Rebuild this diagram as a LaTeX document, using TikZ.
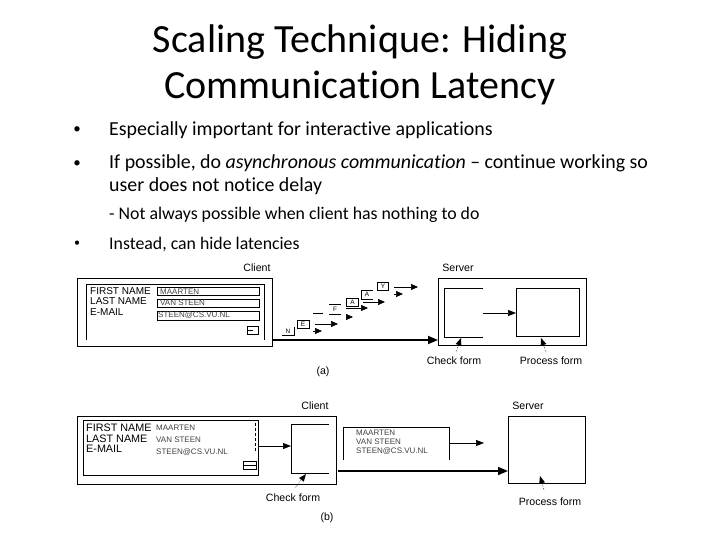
\documentclass[tikz,border=0pt]{standalone}
\usepackage{fontspec}
\setmainfont{Carlito}[Ligatures=NoCommon]
\newfontfamily\diag{Liberation Sans}
\usetikzlibrary{arrows.meta,calc}
\tikzset{
  x=1pt,y=-1pt,
  titletext/.style={anchor=center,inner sep=0,font=\fontsize{40}{40}\selectfont},
  bodytext/.style={anchor=west,inner sep=0,font=\fontsize{19.9}{20}\selectfont},
  subtext/.style={anchor=west,inner sep=0,font=\fontsize{17.8}{18}\selectfont},
  bulletmark/.style={anchor=center,inner sep=0,font=\fontsize{15}{15}\selectfont},
  lab/.style={anchor=center,inner sep=0,font=\diag\fontsize{10.6}{11}\selectfont},
  formlab/.style={anchor=west,inner sep=0,font=\diag\fontsize{10}{10}\selectfont},
  formlabb/.style={anchor=west,inner sep=0,font=\diag\fontsize{10.8}{11}\selectfont},
  fieldtext/.style={anchor=west,inner sep=0,font=\diag\fontsize{8}{8}\selectfont,text=black!75},
  letter/.style={anchor=center,inner sep=0,font=\diag\fontsize{6.4}{7}\selectfont},
  frame/.style={draw,line width=1pt},
  thin box/.style={draw,line width=.8pt},
  sendline/.style={line width=1.7pt,-{Triangle[length=10pt,width=8pt]}},
  flow/.style={line width=.7pt,-{Triangle[length=8pt,width=6pt]}},
  tinyflow/.style={line width=.7pt,-{Triangle[length=7pt,width=6pt]}},
  pointertail/.style={line width=.5pt,densely dotted},
}
\newcommand{\bx}[6][frame]{\node[#1,anchor=north west,inner sep=0,minimum width=#4pt-\pgflinewidth,minimum height=#5pt-\pgflinewidth] (#2) at (#3) {#6};}
\newcommand{\pointerline}[2]{\draw[pointertail] (#1) -- ($(#2)!7pt!(#1)$); \fill (#2) -- ($(#2)!8pt!22:(#1)$) -- ($(#2)!8pt!-22:(#1)$) -- cycle;}
\begin{document}
\begin{tikzpicture}
\useasboundingbox (0,0) rectangle (720,540);
\node[titletext] (t1) at (360,42) {Scaling Technique: Hiding};
\node[titletext] (t2) at (360,88) {Communication Latency};

\node[bulletmark] (b1) at (77,130) {•};
\node[bulletmark] (b2) at (77,164) {•};
\node[bulletmark,font=\fontsize{12}{12}\selectfont] (b3) at (77,244) {•};
\node[bodytext] (l1) at (109,130) {Especially important for interactive applications};
\node[bodytext] (l2) at (109,163.5) {If possible, do \textit{asynchronous communication} – continue working so};
\node[bodytext] (l3) at (109,186) {user does not notice delay};
\node[subtext] (l4) at (109,215) {- Not always possible when client has nothing to do};
\node[subtext] (l5) at (109,244) {Instead, can hide latencies};

% ---------- (a)
\node[lab] (ca) at (257,268) {Client};
\node[lab] (sa) at (458,268) {Server};
\bx{clienta}{77,278}{196}{69}{}
\coordinate (fa1) at (86,340); \coordinate (fa2) at (86,284); \coordinate (fa3) at (264,284); \coordinate (fa4) at (264,340);
\draw[line width=.8pt] (fa1) -- (fa2) -- (fa3) -- (fa4);
\node[formlab] (n1a) at (90,291.5) {FIRST NAME};
\node[formlab] (n2a) at (90,301.5) {LAST NAME};
\node[formlab] (n3a) at (90,312.5) {E-MAIL};
\bx[thin box]{f1a}{157,287}{103}{9}{}
\bx[thin box]{f2a}{157,298.5}{103}{9}{}
\bx[thin box]{f3a}{157,310.5}{103}{10}{}
\node[fieldtext] at (160,291.5) {MAARTEN};
\node[fieldtext] at (160,303) {VAN STEEN};
\node[fieldtext] at (158,315.5) {STEEN@CS.VU.NL};
\bx[thin box]{ba}{247,326}{12}{9}{}
\draw[line width=.8pt] (ba.west) -- (ba.center);

\bx{servera}{438,278}{149}{68}{}
\coordinate (la1) at (483,288); \coordinate (la2) at (444,288); \coordinate (la3) at (444,337); \coordinate (la4) at (483,337);
\draw[line width=.8pt] (la1) -- (la2) -- (la3) -- (la4);
\bx[thin box]{pa}{516,288}{64}{49}{}
\coordinate (lam) at (483,313);
\draw[flow] (lam) -- (pa.west |- lam);
\coordinate (tha) at (272.5,340);
\draw[sendline] (tha) -- (servera.west |- tha);
\node[lab] (cka) at (454,360.5) {Check form};
\node[lab] (pra) at (551,360.5) {Process form};
\coordinate (ca1) at (456,352); \coordinate (ca2) at (461,338);
\pointerline{ca1}{ca2}
\coordinate (pa1) at (546,352); \coordinate (pa2) at (541,338);
\pointerline{pa1}{pa2}
\node[lab] (la) at (323,372) {(a)};

% packets
\node[letter] (pn) at (288,331) {N};
\draw[line width=.7pt] (282,335.5) -- (294,335.5) (294,335.5) -- (294,327);
\bx[thin box]{pe}{296.5,319.5}{13}{9}{}
\node[letter] at (pe) {E};
\draw[line width=.7pt] (313,313) -- (323,313);
\node[letter] (pf) at (335,309) {F};
\draw[line width=.7pt] (329,314) -- (341,314) (329,304.5) -- (341,304.5);
\bx[thin box]{pa1b}{346,298}{13}{9}{}
\node[letter] at (pa1b) {A};
\node[letter] (pa2b) at (367,294) {A};
\draw[line width=.7pt] (361,299) -- (361,290) -- (373,290) (361,299) -- (373,299);
\bx[thin box]{pyb}{377,282}{12}{9}{}
\node[letter] at (pyb) {Y};
\coordinate (w1) at (313,331); \coordinate (w1e) at (322,331);
\coordinate (w2) at (315,324); \coordinate (w2e) at (338,324);
\coordinate (w3) at (346,317); \coordinate (w3e) at (353,317);
\coordinate (w4) at (346,308); \coordinate (w4e) at (368,308);
\coordinate (w5) at (363,302); \coordinate (w5e) at (385,302);
\coordinate (w6) at (394,294); \coordinate (w6e) at (403,294);
\coordinate (w7) at (394,287); \coordinate (w7e) at (418,287);
\foreach \i in {1,...,7} {\draw[tinyflow] (w\i) -- (w\i e);}

% ---------- (b)
\node[lab] (cb) at (315,405.5) {Client};
\node[lab] (sb) at (528,405.5) {Server};
\bx{clientb}{77,416}{260}{69}{}
\bx[thin box]{formb}{83,419.5}{176}{56}{}
\node[formlabb] (n1b) at (86,428) {FIRST NAME};
\node[formlabb] (n2b) at (86,438.5) {LAST NAME};
\node[formlabb] (n3b) at (86,449) {E-MAIL};
\node[fieldtext] at (156,428) {MAARTEN};
\node[fieldtext] at (156,440) {VAN STEEN};
\node[fieldtext] at (156,452) {STEEN@CS.VU.NL};
\coordinate (vb1) at (255,423); \coordinate (vb2) at (255,452);
\draw[line width=.8pt,densely dashed] (vb1) -- (vb2);
\bx[thin box]{bb}{243,461}{14}{9}{}
\draw[line width=.8pt] (bb.west) -- (bb.east);
\coordinate (cf1) at (329,424); \coordinate (cf2) at (291,424); \coordinate (cf3) at (291,473); \coordinate (cf4) at (329,473);
\draw[line width=.8pt] (cf1) -- (cf2) -- (cf3) -- (cf4);
\coordinate (ab) at (259,446);
\draw[flow] (ab) -- (cf2 |- ab);
\bx{serverb}{508,416}{78}{68}{}
\coordinate (tb) at (337.5,471);
\draw[sendline] (tb) -- (serverb.west |- tb);
\coordinate (mb1) at (343,460); \coordinate (mb2) at (343,427); \coordinate (mb3) at (449,427); \coordinate (mb4) at (449,460);
\draw[line width=.8pt] (mb1) -- (mb2) -- (mb3) -- (mb4);
\node[fieldtext] at (356,433) {MAARTEN};
\node[fieldtext] at (356,442) {VAN STEEN};
\node[fieldtext] at (356,451) {STEEN@CS.VU.NL};
\coordinate (ob1) at (449,443); \coordinate (ob2) at (484,443);
\draw[flow] (ob1) -- (ob2);
\node[lab] (ckb) at (293,498) {Check form};
\node[lab] (prb) at (550,502) {Process form};
\coordinate (cb1) at (295,488); \coordinate (cb2) at (306,474);
\pointerline{cb1}{cb2}
\coordinate (pb1) at (544,490); \coordinate (pb2) at (540,476);
\pointerline{pb1}{pb2}
\node[lab] (lb) at (327,518) {(b)};
\end{tikzpicture}
\end{document}
